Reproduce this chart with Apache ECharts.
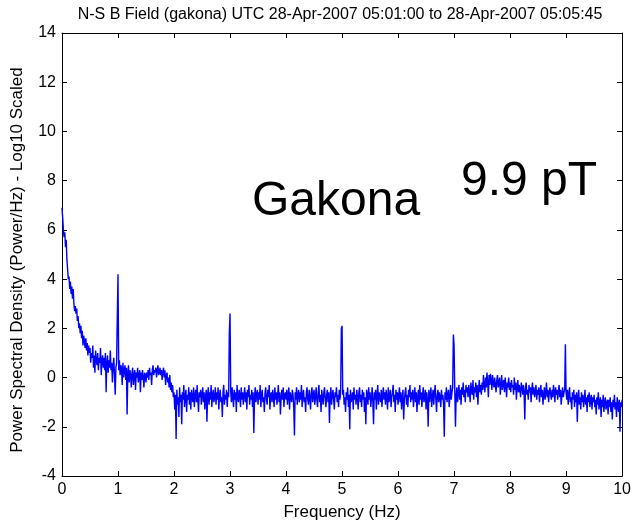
<!DOCTYPE html>
<html>
<head>
<meta charset="utf-8">
<title>N-S B Field (gakona) spectrum</title>
<script src="https://cdn.jsdelivr.net/npm/echarts@6/dist/echarts.min.js"></script>
<style>
  html, body { margin: 0; padding: 0; background: #fff; }
  #chart { width: 634px; height: 526px; }
</style>
</head>
<body>
<div id="chart"></div>
<script>
// Spectrum sampling: one value every 0.0125 Hz from 0 to 10 Hz
const freqStep = 0.0125;

// log10-scaled power spectral density, 20 samples per row (0.25 Hz per row)
const psdValues = [
  6.9, 6.5, 6.0, 5.7, 5.9, 5.3, 5.6, 4.8, 4.4, 4.0, 4.1, 3.6, 3.9, 3.4, 3.7, 3.2, 3.6, 3.0, 2.7, 2.9,
  2.6, 2.8, 2.3, 2.5, 2.0, 2.2, 1.8, 2.1, 1.6, 1.9, 1.3, 1.7, 1.5, 1.2, 1.6, 1.1, 1.4, 0.9, 1.3, 1.0,
  1.2, 0.6, 1.0, 0.8, 1.3, 0.4, 0.9, 0.2, 1.1, 0.7, 0.5, 1.0, 0.3, 0.8, 0.6, 1.2, 0.1, 0.7, 0.9, 0.4,
  0.8, 0.3, 1.0, -0.6, 0.6, 0.9, 0.2, 0.7, 0.4, 1.1, 0.3, 0.6, -0.2, 0.5, 0.8, 0.1, -0.7, 0.4, 0.6, 2.5,
  4.2, 0.3, 0.7, 0.1, 0.5, 0.4, -0.3, 0.6, 0.0, 0.3, 0.5, -0.1, 0.4, -1.5, 0.2, 0.5, -0.2, 0.3, 0.1, -0.4,
  0.2, 0.4, -0.3, 0.1, 0.3, -0.5, 0.2, 0.0, 0.4, -0.2, 0.1, 0.3, -0.6, 0.2, -0.1, 0.3, 0.0, -0.4, 0.2, 0.1,
  -0.2, 0.2, 0.0, 0.3, -0.1, 0.4, 0.1, 0.2, -0.3, 0.3, 0.5, 0.1, 0.3, 0.2, 0.4, 0.0, 0.3, 0.5, 0.1, 0.2,
  0.4, 0.1, 0.3, -0.1, 0.2, 0.4, 0.0, 0.3, -0.3, 0.1, 0.2, -0.2, 0.0, -0.4, 0.1, -0.5, -0.2, -0.6, -0.3, -0.8,
  -0.6, -1.3, -0.7, -2.5, -0.5, -1.1, -0.8, -1.6, -0.4, -1.0, -0.7, -1.9, -0.6, -0.9, -0.3, -1.2, -0.8, -0.5, -1.4, -0.7,
  -0.9, -0.4, -1.1, -0.6, -1.3, -0.5, -0.8, -1.0, -0.4, -1.2, -0.7, -0.5, -1.0, -0.3, -0.9, -1.4, -0.6, -0.8, -0.5, -1.1,
  -0.7, -0.4, -1.0, -0.6, -1.3, -0.8, -0.5, -1.8, -0.7, -0.4, -1.1, -0.6, -0.9, -0.3, -1.2, -0.7, -0.5, -1.0, -0.8, -0.4,
  -1.1, -0.6, -0.9, -0.4, -1.3, -0.7, -0.5, -1.0, -0.8, -1.6, -0.6, -0.3, -1.1, -0.7, -0.9, -0.5, -1.2, -0.6, -0.8, 1.8,
  2.6, -0.6, -1.0, -0.4, -0.8, -1.2, -0.5, -0.9, -0.6, -1.4, -0.3, -0.8, -1.0, -0.5, -0.7, -1.2, -0.4, -0.9, -0.6, -1.1,
  -0.7, -0.4, -1.0, -0.6, -1.3, -0.5, -0.8, -0.3, -1.1, -0.7, -0.9, -0.5, -1.2, -0.6, -2.25, -0.8, -0.4, -1.0, -0.7, -0.5,
  -1.1, -0.6, -0.9, -0.3, -1.2, -0.7, -0.5, -1.0, -0.8, -1.4, -0.6, -0.4, -0.9, -1.1, -0.5, -0.8, -0.3, -1.3, -0.7, -0.6,
  -1.0, -0.5, -0.8, -1.2, -0.4, -0.9, -0.6, -1.1, -0.7, -0.3, -1.0, -0.6, -1.5, -0.8, -0.5, -0.9, -0.4, -1.2, -0.7, -0.6,
  -0.9, -0.5, -1.1, -0.7, -0.4, -1.3, -0.6, -0.8, -1.0, -0.5, -0.7, -1.2, -2.35, -0.6, -0.9, -0.4, -1.1, -0.7, -0.5, -1.0,
  -0.6, -0.9, -0.3, -1.2, -0.7, -0.5, -1.0, -0.8, -1.4, -0.6, -0.4, -0.9, -1.1, -0.5, -0.8, -1.3, -0.6, -0.4, -1.0, -0.7,
  -0.5, -1.1, -0.8, -0.4, -0.9, -1.2, -0.6, -0.3, -1.0, -0.7, -1.4, -0.5, -0.8, -1.1, -0.6, -0.4, -0.9, -1.2, -0.7, -0.5,
  -1.0, -0.6, -1.85, -0.8, -0.4, -1.1, -0.7, -0.5, -0.9, -1.3, -0.6, -0.8, -0.4, -1.0, -0.7, -1.2, -0.5, -0.9, -0.6, 2.0,
  2.1, -0.7, -0.5, -1.1, -0.8, -1.4, -0.6, -0.9, -0.4, -1.2, -0.7, -2.1, -0.5, -1.0, -0.8, -0.6, -1.3, -0.4, -0.9, -0.7,
  -1.1, -0.5, -0.8, -1.3, -0.6, -0.4, -1.0, -0.7, -1.2, -0.5, -0.9, -0.6, -1.4, -0.8, -1.9, -0.5, -0.7, -1.1, -0.4, -0.9,
  -0.6, -1.2, -0.8, -0.4, -1.0, -1.9, -0.6, -0.9, -0.5, -1.3, -0.7, -0.3, -1.1, -0.6, -0.8, -1.0, -0.5, -1.2, -0.7, -0.4,
  -0.9, -0.6, -1.1, -0.5, -0.8, -1.3, -0.4, -1.0, -0.7, -0.5, -1.2, -0.8, -0.6, -0.3, -1.0, -0.7, -1.4, -0.5, -0.9, -0.6,
  -1.1, -0.7, -0.4, -1.0, -0.6, -1.3, -0.8, -0.5, -1.7, -0.9, -0.6, -0.4, -1.1, -0.7, -1.2, -0.5, -0.8, -0.3, -1.0, -0.6,
  -0.9, -0.5, -1.2, -0.7, -0.4, -1.0, -0.6, -1.4, -0.8, -0.5, -1.1, -0.3, -0.9, -0.6, -1.2, -0.7, -0.4, -1.0, -0.8, -0.5,
  -1.3, -0.6, -0.9, -2.0, -0.5, -1.0, -0.7, -0.4, -1.2, -0.8, -0.5, -1.1, -0.6, -0.3, -0.9, -1.4, -0.7, -0.5, -1.0, -0.6,
  -0.8, -1.2, -0.5, -0.9, -0.7, -1.1, -2.4, -0.6, -0.9, -0.4, -1.0, -0.7, -0.5, -1.2, -0.8, -0.3, -0.9, -0.6, -0.4, 1.75,
  1.3, -0.5, -2.0, -0.7, -0.4, -1.0, -0.6, -0.3, -0.9, -0.5, -1.1, -0.4, -0.7, -0.2, -0.8, -0.5, -1.0, -0.3, -0.6, -0.4,
  -0.8, -0.3, -0.6, -1.0, -0.2, -0.5, -0.7, -0.1, -0.9, -0.4, -0.6, -0.2, -0.8, -0.3, -1.1, -0.5, -0.1, -0.6, -0.3, -0.7,
  -0.2, -0.5, 0.1, -0.3, -0.6, 0.0, -0.4, 0.2, -0.2, -0.8, 0.1, -0.3, 0.15, -0.1, -0.5, 0.1, -0.2, -0.4, 0.0, -0.3,
  -0.6, -0.1, 0.1, -0.4, -0.2, 0.0, -0.7, -0.3, 0.1, -0.5, -0.2, -0.1, -0.6, 0.0, -0.3, -0.8, -0.2, -0.4, 0.0, -0.5,
  -0.2, -0.6, -0.1, -0.4, -0.3, -0.7, 0.0, -0.5, -0.2, -0.9, -0.4, -0.1, -0.6, -0.3, -0.5, -0.8, -0.2, -0.4, -0.7, -0.3,
  -0.6, -1.7, -0.4, -0.2, -0.7, -0.5, -0.9, -0.3, -0.6, -0.4, -1.0, -0.5, -0.2, -0.7, -0.4, -0.8, -0.6, -0.3, -0.9, -0.5,
  -0.7, -0.4, -1.0, -0.6, -0.3, -0.8, -0.5, -1.1, -0.7, -0.4, -0.9, -0.6, -0.2, -0.8, -0.5, -1.0, -0.6, -0.4, -0.7, -0.9,
  -0.5, -0.8, -0.3, -0.6, -1.0, -0.4, -0.7, -0.5, -0.9, -0.6, -0.3, -0.8, -0.5, -1.1, -0.7, -0.4, -0.8, -0.6, -0.5, 1.35,
  -0.6, -0.9, -0.5, -1.1, -0.7, -0.4, -1.0, -0.8, -1.3, -0.6, -0.9, -0.5, -1.2, -0.7, -1.0, -0.6, -1.8, -0.8, -0.5, -1.1,
  -0.8, -1.3, -0.6, -1.0, -0.7, -1.2, -0.9, -0.5, -1.1, -0.8, -1.4, -0.7, -1.0, -0.6, -1.2, -0.9, -0.7, -1.3, -0.8, -1.0,
  -0.7, -1.2, -0.9, -1.5, -0.8, -1.1, -0.6, -1.3, -1.0, -0.8, -1.6, -0.9, -1.2, -0.7, -1.4, -1.0, -0.8, -1.3, -1.1, -0.9,
  -1.5, -0.9, -1.2, -0.8, -1.4, -1.0, -1.7, -0.9, -1.2, -0.7, -1.3, -1.0, -1.6, -0.8, -1.1, -1.4, -0.9, -2.2, -1.0, -1.2,
  -0.9
];

const xTicks = [0, 1, 2, 3, 4, 5, 6, 7, 8, 9, 10];
const yTicks = [-4, -2, 0, 2, 4, 6, 8, 10, 12, 14];

const titleText = 'N-S B Field (gakona) UTC 28-Apr-2007 05:01:00 to 28-Apr-2007 05:05:45';
const xLabel = 'Frequency (Hz)';
const yLabel = 'Power Spectral Density (Power/Hz) - Log10 Scaled';
const siteLabel = 'Gakona';
const amplitudeLabel = '9.9 pT';

const spectrum = psdValues.map((v, i) => [+(i * freqStep).toFixed(4), v]);

const font = 'Arial, "Liberation Sans", Helvetica, sans-serif';
const axisColor = '#000';

function boxAxis(extra) {
  return Object.assign({
    type: 'value',
    axisLine: { show: true, onZero: false, lineStyle: { color: axisColor, width: 1 } },
    axisTick: { show: true, inside: true, length: 5, lineStyle: { color: axisColor } },
    splitLine: { show: false }
  }, extra);
}

const chart = echarts.init(document.getElementById('chart'), null, { renderer: 'canvas' });

chart.setOption({
  animation: false,
  backgroundColor: '#fff',
  textStyle: { fontFamily: font },
  title: {
    text: titleText,
    left: 335,
    top: 2,
    textAlign: 'center',
    textStyle: { fontSize: 16, fontWeight: 'normal', color: '#000', fontFamily: font }
  },
  grid: { left: 62, right: 7, top: 33, bottom: 49, containLabel: false },
  xAxis: [
    boxAxis({
      position: 'bottom',
      min: xTicks[0], max: xTicks[xTicks.length - 1], interval: 1,
      name: xLabel, nameLocation: 'middle', nameGap: 28,
      nameTextStyle: { fontSize: 17, color: '#000', fontFamily: font },
      axisLabel: { show: true, fontSize: 16, color: '#000', margin: 6, fontFamily: font }
    }),
    boxAxis({
      position: 'top',
      min: xTicks[0], max: xTicks[xTicks.length - 1], interval: 1,
      axisLabel: { show: false }
    })
  ],
  yAxis: [
    boxAxis({
      position: 'left',
      min: yTicks[0], max: yTicks[yTicks.length - 1], interval: 2,
      axisLabel: { show: true, fontSize: 16, color: '#000', margin: 6, fontFamily: font }
    }),
    boxAxis({
      position: 'right',
      min: yTicks[0], max: yTicks[yTicks.length - 1], interval: 2,
      axisLabel: { show: false }
    })
  ],
  series: [{
    type: 'line',
    data: spectrum,
    showSymbol: false,
    symbol: 'none',
    lineStyle: { color: '#0000ff', width: 1.4 },
    z: 1
  }],
  graphic: [
    {
      // vertical axis title, rotated to read bottom-to-top
      type: 'text', x: 17, y: 260, rotation: Math.PI / 2,
      style: {
        text: yLabel, font: '17px ' + font, fill: '#000',
        align: 'center', verticalAlign: 'middle'
      }
    },
    {
      type: 'text', left: 252, top: 178,
      style: { text: siteLabel, font: '48px ' + font, fill: '#000' }
    },
    {
      type: 'text', left: 461, top: 158,
      style: { text: amplitudeLabel, font: '48px ' + font, fill: '#000' }
    }
  ]
});
</script>
</body>
</html>
